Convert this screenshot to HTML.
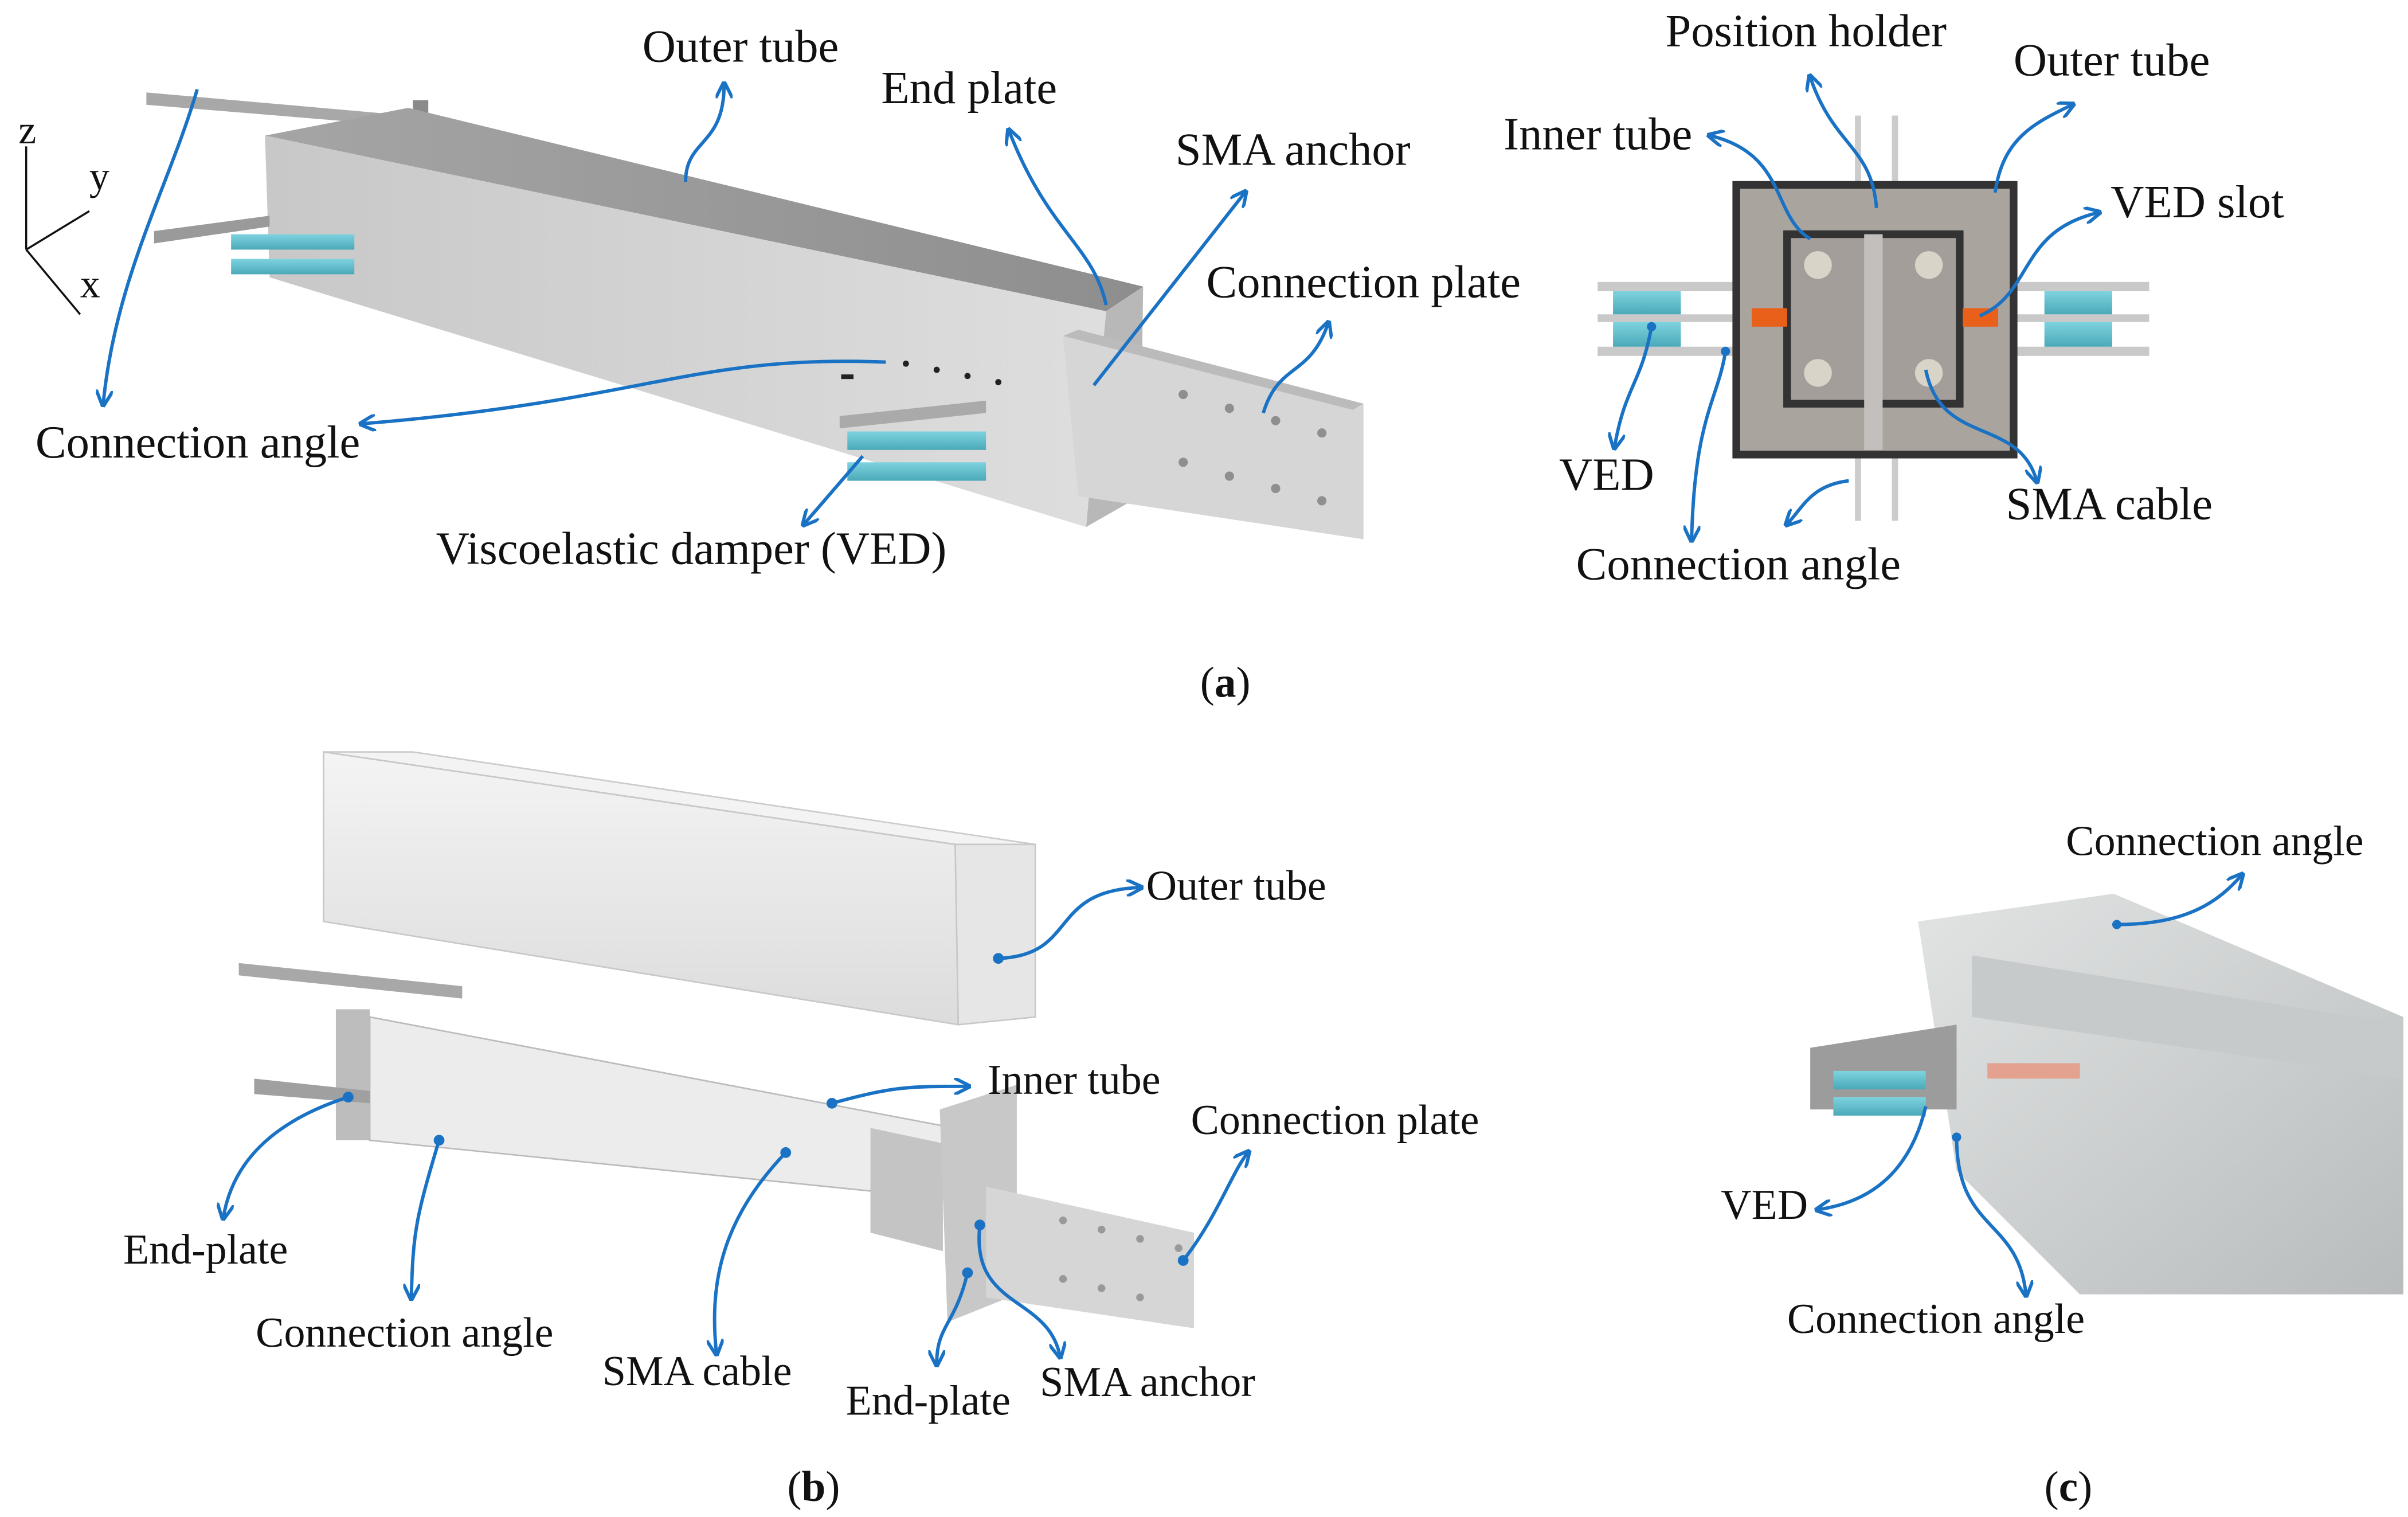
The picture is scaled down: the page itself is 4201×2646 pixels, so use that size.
<!DOCTYPE html>
<html><head><meta charset="utf-8"><style>
html,body{margin:0;padding:0;background:#fff}
svg{display:block}
text{font-family:"Liberation Serif",serif;fill:#111}
</style></head><body>
<svg width="4201" height="2646" viewBox="0 0 1563 984.5" preserveAspectRatio="none" xmlns="http://www.w3.org/2000/svg">
<defs>
<marker id="ar" viewBox="0 0 10 10" refX="8" refY="5" markerWidth="5" markerHeight="5" orient="auto"><path d="M0,0 L10,5 L0,10" fill="none" stroke="#1a72c4" stroke-width="2"/></marker>
<linearGradient id="fr" x1="0" y1="0" x2="1" y2="0"><stop offset="0" stop-color="#c8c8c8"/><stop offset="1" stop-color="#dedede"/></linearGradient>
<linearGradient id="tp" x1="0" y1="0" x2="1" y2="0"><stop offset="0" stop-color="#a5a5a5"/><stop offset="1" stop-color="#8e8e8e"/></linearGradient>
<linearGradient id="ved" x1="0" y1="0" x2="0" y2="1"><stop offset="0" stop-color="#7fd3e0"/><stop offset="1" stop-color="#4aa9b8"/></linearGradient>
<linearGradient id="gl" x1="0" y1="0" x2="0" y2="1"><stop offset="0" stop-color="#f4f4f4"/><stop offset="1" stop-color="#dcdcdc"/></linearGradient>
<linearGradient id="cg" x1="0" y1="0" x2="1" y2="1"><stop offset="0" stop-color="#e2e4e4"/><stop offset="1" stop-color="#b8bcbc"/></linearGradient>
</defs>

<!-- (a) left box -->
<polygon points="95,60 265,75 265,82 95,68" fill="#a8a8a8"/>
<polygon points="268,65 278,65 278,85 268,90" fill="#8a8a8a"/>
<polygon points="172,88 265,70 742,186 718,202" fill="url(#tp)"/>
<polygon points="172,88 718,202 705,342 175,180" fill="url(#fr)"/>
<polygon points="718,202 742,186 740,322 705,342" fill="#b8b8b8"/>
<polygon points="690,218 700,214 885,262 885,350 700,322" fill="#d6d6d6"/>
<polygon points="690,218 700,214 885,262 878,266" fill="#bbb"/>
<g fill="#8f8f8f"><circle cx="768" cy="256" r="3"/><circle cx="798" cy="265" r="3"/><circle cx="828" cy="273" r="3"/><circle cx="858" cy="281" r="3"/><circle cx="768" cy="300" r="3"/><circle cx="798" cy="309" r="3"/><circle cx="828" cy="317" r="3"/><circle cx="858" cy="325" r="3"/></g>
<polygon points="100,150 175,140 175,147 100,158" fill="#9a9a9a"/>
<rect x="150" y="152" width="80" height="10" fill="url(#ved)"/>
<rect x="150" y="168" width="80" height="10" fill="url(#ved)"/>
<polygon points="545,270 640,260 640,268 545,278" fill="#aaa"/>
<rect x="550" y="280" width="90" height="12" fill="url(#ved)"/>
<rect x="550" y="300" width="90" height="12" fill="url(#ved)"/>
<g fill="#222"><circle cx="588" cy="236" r="2"/><circle cx="608" cy="240" r="2"/><circle cx="628" cy="244" r="2"/><circle cx="648" cy="248" r="2"/><rect x="546" y="243" width="8" height="3"/></g>

<!-- (a) right cross-section -->
<rect x="1204" y="75" width="4" height="60" fill="#ccc"/><rect x="1228" y="75" width="4" height="60" fill="#ccc"/>
<rect x="1204" y="290" width="4" height="48" fill="#ccc"/><rect x="1228" y="290" width="4" height="48" fill="#ccc"/>
<rect x="1037" y="183" width="95" height="6" fill="#c9c9c9"/><rect x="1037" y="204" width="95" height="5" fill="#c9c9c9"/><rect x="1037" y="225" width="95" height="6" fill="#c9c9c9"/>
<rect x="1047" y="189" width="44" height="15" fill="url(#ved)"/><rect x="1047" y="209" width="44" height="16" fill="url(#ved)"/>
<rect x="1300" y="183" width="95" height="6" fill="#c9c9c9"/><rect x="1300" y="204" width="95" height="5" fill="#c9c9c9"/><rect x="1300" y="225" width="95" height="6" fill="#c9c9c9"/>
<rect x="1327" y="189" width="44" height="15" fill="url(#ved)"/><rect x="1327" y="209" width="44" height="16" fill="url(#ved)"/>
<rect x="1127" y="120" width="180" height="175" fill="#aaa49f" stroke="#333" stroke-width="5"/>
<rect x="1160" y="152" width="112" height="110" fill="#a49e9a" stroke="#333" stroke-width="5"/>
<rect x="1210" y="152" width="12" height="140" fill="#c2bfbc"/>
<rect x="1137" y="200" width="23" height="12" fill="#e8601a"/><rect x="1274" y="200" width="23" height="12" fill="#e8601a"/>
<g fill="#d9d4c8"><circle cx="1180" cy="172" r="9"/><circle cx="1252" cy="172" r="9"/><circle cx="1180" cy="242" r="9"/><circle cx="1252" cy="242" r="9"/></g>

<!-- (b) -->
<polygon points="210,488 268,488 672,548 620,548" fill="#f3f3f3" stroke="#ccc"/>
<polygon points="210,488 620,548 622,665 210,598" fill="url(#gl)" stroke="#c8c8c8"/>
<polygon points="620,548 672,548 672,660 622,665" fill="#e6e6e6" stroke="#c8c8c8"/>
<polygon points="155,625 300,640 300,648 155,633" fill="#a8a8a8"/>
<polygon points="218,655 240,655 240,740 218,740" fill="#bdbdbd"/>
<polygon points="240,660 635,735 635,780 240,740" fill="#ececec" stroke="#bbb"/>
<polygon points="165,700 240,708 240,716 165,710" fill="#a0a0a0"/>
<polygon points="565,732 612,742 612,812 565,800" fill="#c4c4c4"/>
<polygon points="610,720 660,704 660,840 615,858" fill="#c8c8c8"/>
<polygon points="640,770 775,800 775,862 640,842" fill="#d6d6d6"/>
<g fill="#999"><circle cx="690" cy="792" r="2.5"/><circle cx="715" cy="798" r="2.5"/><circle cx="740" cy="804" r="2.5"/><circle cx="765" cy="810" r="2.5"/><circle cx="690" cy="830" r="2.5"/><circle cx="715" cy="836" r="2.5"/><circle cx="740" cy="842" r="2.5"/></g>

<!-- (c) -->
<polygon points="1245,598 1372,580 1560,660 1560,840 1350,840 1270,760" fill="url(#cg)"/>
<polygon points="1280,620 1560,665 1560,700 1280,660" fill="#c6caca"/>
<rect x="1290" y="690" width="60" height="10" fill="#e98a70" opacity=".7"/>
<polygon points="1175,680 1270,665 1270,720 1175,720" fill="#9c9c9c"/>
<rect x="1190" y="695" width="60" height="12" fill="url(#ved)"/><rect x="1190" y="712" width="60" height="12" fill="url(#ved)"/>

<!-- connectors -->
<g fill="none" stroke="#1a72c4" stroke-width="2.2" marker-end="url(#ar)">
<path d="M445,118 C445,90 470,95 470,55"/>
<path d="M718,198 C710,160 680,150 655,85"/>
<path d="M710,250 L808,125"/>
<path d="M820,268 C830,235 850,245 862,210"/>
<path d="M128,58 C110,120 75,180 67,262"/>
<path d="M575,235 C450,230 420,260 235,275"/>
<path d="M560,296 L522,340"/>
<path d="M1218,135 C1215,95 1190,95 1175,50"/>
<path d="M1295,125 C1300,90 1320,80 1345,68"/>
<path d="M1175,155 C1150,140 1160,100 1110,88"/>
<path d="M1285,205 C1320,190 1310,150 1362,138"/>
<path d="M1072,212 C1065,250 1055,250 1048,290"/>
<path d="M1120,228 C1115,260 1100,270 1098,350"/>
<path d="M1250,240 C1260,290 1310,270 1322,312"/>
<path d="M1200,312 C1175,315 1170,330 1160,340"/>
<path d="M648,622 C700,620 680,578 740,576"/>
<path d="M540,716 C580,705 590,705 628,705"/>
<path d="M226,712 C170,730 150,760 145,790"/>
<path d="M285,740 C270,790 268,800 267,842"/>
<path d="M510,748 C470,790 460,830 465,878"/>
<path d="M628,826 C620,860 608,860 608,885"/>
<path d="M636,795 C630,850 680,840 688,880"/>
<path d="M768,818 C790,790 800,760 810,748"/>
<path d="M1374,600 C1420,600 1440,585 1455,568"/>
<path d="M1250,718 C1240,760 1215,780 1180,785"/>
<path d="M1270,738 C1270,800 1310,790 1315,840"/>
</g>
<g fill="#1a72c4"><circle cx="648" cy="622" r="3.5"/><circle cx="540" cy="716" r="3.5"/><circle cx="226" cy="712" r="3.5"/><circle cx="285" cy="740" r="3.5"/><circle cx="510" cy="748" r="3.5"/><circle cx="628" cy="826" r="3.5"/><circle cx="636" cy="795" r="3.5"/><circle cx="768" cy="818" r="3.5"/><circle cx="1374" cy="600" r="3"/><circle cx="1270" cy="738" r="3"/><circle cx="1120" cy="228" r="3"/><circle cx="1072" cy="212" r="3"/></g>

<!-- axes -->
<g stroke="#111" stroke-width="1.3" fill="none"><path d="M17,162 L17,95"/><path d="M17,162 L58,137"/><path d="M17,162 L52,204"/></g>
<text x="12" y="93" font-size="26">z</text><text x="58" y="123" font-size="26">y</text><text x="52" y="193" font-size="26">x</text>

<!-- labels -->
<g font-size="30">
<text x="417" y="40">Outer tube</text>
<text x="572" y="67">End plate</text>
<text x="763" y="107">SMA anchor</text>
<text x="783" y="193">Connection plate</text>
<text x="23" y="297">Connection angle</text>
<text x="283" y="366">Viscoelastic damper (VED)</text>
<text x="1081" y="30">Position holder</text>
<text x="1307" y="49">Outer tube</text>
<text x="976" y="97">Inner tube</text>
<text x="1370" y="141">VED slot</text>
<text x="1012" y="318">VED</text>
<text x="1302" y="337">SMA cable</text>
<text x="1023" y="376">Connection angle</text>
<text x="779" y="452" font-size="28">(<tspan font-weight="bold">a</tspan>)</text>
</g>
<g font-size="27.5">
<text x="744" y="584">Outer tube</text>
<text x="641" y="710">Inner tube</text>
<text x="773" y="736">Connection plate</text>
<text x="80" y="820">End-plate</text>
<text x="166" y="874">Connection angle</text>
<text x="391" y="899">SMA cable</text>
<text x="549" y="918">End-plate</text>
<text x="675" y="906">SMA anchor</text>
<text x="1341" y="555">Connection angle</text>
<text x="1117" y="791">VED</text>
<text x="1160" y="865">Connection angle</text>
<text x="511" y="974" font-size="28">(<tspan font-weight="bold">b</tspan>)</text>
<text x="1327" y="974" font-size="28">(<tspan font-weight="bold">c</tspan>)</text>
</g>
</svg>
</body></html>
